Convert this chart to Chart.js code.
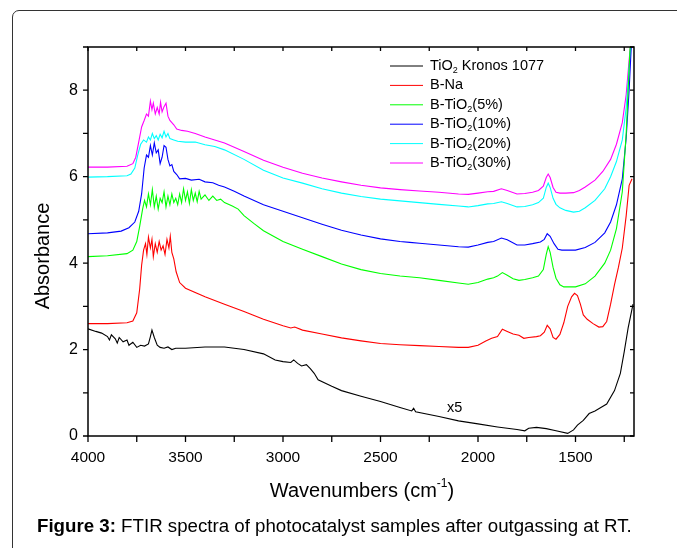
<!DOCTYPE html>
<html lang="en">
<head>
    <meta charset="UTF-8">
    <title>FTIR spectra</title>
    <script src="https://cdn.jsdelivr.net/npm/chart.js"></script>
    <style>
        body {
            margin: 0;
            background: #fff;
            font-family: "Liberation Sans", Arial, sans-serif;
        }
        .frame {
            position: absolute;
            left: 12px;
            top: 10px;
            width: 720px;
            height: 600px;
            border: 1px solid #333;
            border-radius: 7px;
        }
        .chart-box {
            position: absolute;
            left: 0;
            top: 0;
            width: 677px;
            height: 548px;
        }
        .caption {
            position: absolute;
            left: 37px;
            top: 515px;
            font-size: 18.7px;
            color: #000;
            white-space: nowrap;
        }
    </style>
</head>
<body>
    <div class="frame"></div>
    <div class="chart-box"><canvas id="ftirChart"></canvas></div>
    <div class="caption"><b>Figure 3:</b> FTIR spectra of photocatalyst samples after outgassing at RT.</div>

    <script>
        // Spektren (Wellenzahl / Absorbanz)
        const wnBlack = [4000, 3960, 3930, 3900, 3890, 3880, 3860, 3850, 3840, 3820, 3800, 3790, 3770, 3750, 3730, 3710, 3690, 3680, 3672, 3660, 3645, 3630, 3610, 3590, 3570, 3550, 3500, 3400, 3300, 3200, 3100, 3040, 3000, 2960, 2945, 2925, 2905, 2880, 2860, 2840, 2820, 2750, 2700, 2600, 2500, 2400, 2340, 2330, 2320, 2200, 2100, 2000, 1900, 1800, 1760, 1740, 1700, 1650, 1600, 1540, 1510, 1490, 1460, 1430, 1400, 1370, 1340, 1300, 1270, 1250, 1230, 1205];
        const absBlack = [2.48, 2.42, 2.38, 2.30, 2.22, 2.34, 2.25, 2.15, 2.28, 2.18, 2.22, 2.10, 2.17, 2.05, 2.10, 2.08, 2.13, 2.30, 2.45, 2.28, 2.10, 2.05, 2.03, 2.06, 2.00, 2.03, 2.03, 2.06, 2.06, 2.00, 1.90, 1.76, 1.72, 1.70, 1.76, 1.68, 1.62, 1.65, 1.56, 1.45, 1.30, 1.15, 1.05, 0.92, 0.80, 0.66, 0.58, 0.64, 0.56, 0.45, 0.35, 0.28, 0.21, 0.15, 0.12, 0.18, 0.20, 0.17, 0.12, 0.06, 0.14, 0.25, 0.36, 0.52, 0.58, 0.66, 0.74, 1.05, 1.45, 1.95, 2.50, 3.05];

        const wnRed = [4000, 3900, 3800, 3770, 3750, 3735, 3725, 3715, 3705, 3698, 3690, 3680, 3672, 3665, 3655, 3645, 3635, 3625, 3615, 3605, 3595, 3585, 3578, 3570, 3560, 3548, 3530, 3500, 3400, 3300, 3200, 3100, 3000, 2960, 2940, 2900, 2800, 2700, 2600, 2500, 2400, 2300, 2200, 2100, 2050, 2000, 1960, 1930, 1900, 1875, 1850, 1820, 1790, 1765, 1740, 1700, 1680, 1660, 1645, 1630, 1615, 1600, 1580, 1560, 1540, 1520, 1505, 1490, 1475, 1460, 1440, 1410, 1380, 1360, 1340, 1320, 1300, 1280, 1260, 1240, 1225, 1210];
        const absRed = [2.60, 2.60, 2.62, 2.66, 2.85, 3.40, 3.95, 4.30, 4.45, 4.20, 4.60, 4.35, 4.55, 4.15, 4.45, 4.25, 4.50, 4.30, 4.40, 4.20, 4.55, 4.35, 4.62, 4.25, 4.10, 3.80, 3.55, 3.42, 3.22, 3.05, 2.88, 2.70, 2.55, 2.50, 2.52, 2.45, 2.36, 2.27, 2.20, 2.14, 2.11, 2.09, 2.07, 2.05, 2.05, 2.10, 2.20, 2.26, 2.30, 2.47, 2.42, 2.36, 2.33, 2.26, 2.28, 2.30, 2.32, 2.40, 2.56, 2.48, 2.28, 2.24, 2.35, 2.62, 3.00, 3.22, 3.30, 3.25, 3.05, 2.80, 2.70, 2.60, 2.52, 2.53, 2.65, 3.05, 3.50, 3.90, 4.35, 5.10, 5.80, 5.95];

        const wnGreen = [4000, 3900, 3800, 3770, 3750, 3735, 3720, 3710, 3700, 3690, 3680, 3670, 3660, 3650, 3640, 3630, 3620, 3610, 3600, 3590, 3580, 3570, 3560, 3550, 3540, 3530, 3520, 3510, 3500, 3490, 3480, 3470, 3460, 3450, 3440, 3430, 3420, 3400, 3380, 3360, 3340, 3320, 3300, 3260, 3230, 3200, 3150, 3100, 3000, 2900, 2800, 2700, 2600, 2500, 2400, 2300, 2200, 2100, 2050, 2000, 1950, 1920, 1900, 1875, 1850, 1820, 1790, 1760, 1720, 1690, 1665, 1650, 1640, 1630, 1615, 1600, 1580, 1560, 1500, 1450, 1400, 1350, 1320, 1290, 1260, 1240, 1225, 1215, 1205];
        const absGreen = [4.15, 4.17, 4.22, 4.30, 4.50, 4.85, 5.25, 5.45, 5.30, 5.60, 5.35, 5.70, 5.30, 5.55, 5.25, 5.50, 5.40, 5.65, 5.30, 5.55, 5.35, 5.60, 5.40, 5.50, 5.35, 5.60, 5.40, 5.72, 5.45, 5.65, 5.38, 5.70, 5.45, 5.62, 5.42, 5.66, 5.48, 5.58, 5.45, 5.55, 5.45, 5.48, 5.40, 5.32, 5.25, 5.10, 4.92, 4.75, 4.50, 4.32, 4.15, 3.98, 3.85, 3.76, 3.70, 3.66, 3.60, 3.54, 3.51, 3.55, 3.63, 3.66, 3.70, 3.78, 3.72, 3.64, 3.60, 3.62, 3.66, 3.70, 3.85, 4.20, 4.38, 4.25, 3.90, 3.65, 3.50, 3.45, 3.45, 3.52, 3.70, 4.00, 4.30, 4.80, 5.65, 7.00, 8.50, 9.50, 10.0];

        const wnBlue = [4000, 3900, 3830, 3790, 3760, 3740, 3725, 3712, 3700, 3690, 3680, 3670, 3660, 3650, 3640, 3630, 3620, 3610, 3600, 3590, 3580, 3570, 3560, 3545, 3530, 3500, 3470, 3430, 3400, 3360, 3330, 3300, 3250, 3200, 3100, 3000, 2900, 2800, 2700, 2600, 2500, 2400, 2350, 2300, 2200, 2100, 2050, 2000, 1950, 1920, 1880, 1850, 1800, 1760, 1720, 1680, 1660, 1645, 1630, 1610, 1590, 1570, 1500, 1450, 1400, 1350, 1320, 1290, 1260, 1240, 1225, 1212, 1205];
        const absBlue = [4.68, 4.70, 4.74, 4.82, 4.95, 5.20, 5.60, 6.20, 6.50, 6.45, 6.72, 6.50, 6.78, 6.55, 6.62, 6.30, 6.45, 6.72, 6.68, 6.40, 6.25, 6.28, 6.12, 6.05, 5.95, 5.96, 5.92, 5.94, 5.88, 5.86, 5.80, 5.76, 5.66, 5.55, 5.35, 5.20, 5.05, 4.90, 4.76, 4.65, 4.56, 4.50, 4.48, 4.46, 4.42, 4.38, 4.37, 4.42, 4.48, 4.50, 4.58, 4.54, 4.42, 4.42, 4.45, 4.49, 4.55, 4.68, 4.62, 4.45, 4.32, 4.30, 4.30, 4.36, 4.48, 4.70, 4.95, 5.35, 5.95, 6.90, 8.00, 9.20, 9.60];

        const wnCyan = [4000, 3900, 3800, 3780, 3760, 3745, 3730, 3715, 3700, 3690, 3680, 3670, 3660, 3650, 3640, 3630, 3620, 3610, 3600, 3590, 3580, 3560, 3540, 3500, 3450, 3400, 3350, 3300, 3200, 3100, 3000, 2900, 2800, 2700, 2600, 2500, 2400, 2300, 2200, 2100, 2050, 2000, 1950, 1920, 1880, 1850, 1800, 1760, 1720, 1690, 1665, 1650, 1640, 1630, 1615, 1600, 1580, 1550, 1510, 1480, 1450, 1400, 1350, 1320, 1290, 1260, 1240, 1225, 1212];
        const absCyan = [5.99, 6.00, 6.02, 6.06, 6.20, 6.50, 6.75, 6.85, 6.80, 6.92, 6.85, 7.00, 6.88, 6.95, 6.85, 6.98, 6.90, 7.05, 6.92, 7.00, 6.88, 6.85, 6.82, 6.80, 6.80, 6.74, 6.70, 6.62, 6.40, 6.15, 5.97, 5.85, 5.72, 5.62, 5.54, 5.48, 5.44, 5.40, 5.36, 5.32, 5.30, 5.33, 5.37, 5.38, 5.42, 5.38, 5.30, 5.31, 5.35, 5.40, 5.50, 5.75, 5.85, 5.75, 5.50, 5.36, 5.28, 5.22, 5.18, 5.20, 5.28, 5.45, 5.72, 6.00, 6.35, 6.85, 7.60, 8.50, 9.30];

        const wnMagenta = [4000, 3900, 3800, 3770, 3755, 3740, 3725, 3712, 3700, 3690, 3680, 3672, 3665, 3655, 3645, 3635, 3628, 3620, 3610, 3600, 3590, 3580, 3560, 3545, 3520, 3490, 3450, 3400, 3350, 3300, 3200, 3100, 3000, 2900, 2800, 2700, 2600, 2500, 2400, 2300, 2200, 2100, 2050, 2000, 1950, 1920, 1880, 1850, 1800, 1760, 1720, 1690, 1665, 1650, 1640, 1630, 1615, 1600, 1580, 1550, 1510, 1480, 1450, 1400, 1360, 1320, 1290, 1260, 1240, 1225, 1212];
        const absMagenta = [6.22, 6.22, 6.24, 6.30, 6.45, 6.80, 7.15, 7.30, 7.45, 7.40, 7.75, 7.55, 7.70, 7.45, 7.60, 7.45, 7.72, 7.50, 7.62, 7.70, 7.40, 7.30, 7.20, 7.10, 7.07, 7.05, 7.00, 6.92, 6.85, 6.78, 6.58, 6.38, 6.22, 6.08, 5.97, 5.88, 5.80, 5.74, 5.70, 5.67, 5.64, 5.60, 5.59, 5.62, 5.65, 5.66, 5.72, 5.68, 5.60, 5.61, 5.64, 5.68, 5.78, 5.98, 6.06, 5.98, 5.75, 5.64, 5.62, 5.62, 5.63, 5.68, 5.76, 5.92, 6.12, 6.40, 6.75, 7.25, 7.90, 8.70, 9.30];

        const seriesNames = ['TiO2 Kronos 1077', 'B-Na', 'B-TiO2(5%)', 'B-TiO2(10%)', 'B-TiO2(20%)', 'B-TiO2(30%)'];
        const seriesColors = ['#000000', '#ff0000', '#00ff00', '#0000ff', '#00ffff', '#ff00ff'];
        const xLabelValues = [4000, 3500, 3000, 2500, 2000, 1500];
        const yLabelValues = [0, 2, 4, 6, 8];

        const seriesWn = [wnBlack, wnRed, wnGreen, wnBlue, wnCyan, wnMagenta];
        const seriesAbs = [absBlack, absRed, absGreen, absBlue, absCyan, absMagenta];

        const FONT = '"Liberation Sans", Arial, sans-serif';

        // Text mit tiefgestellter "2" nach "TiO"
        function drawChem(ctx, text, x, y, size) {
            const parts = text.split('TiO2');
            let cx = x;
            ctx.font = size + 'px ' + FONT;
            parts.forEach((p, i) => {
                if (i > 0) {
                    ctx.font = size + 'px ' + FONT;
                    ctx.fillText('TiO', cx, y);
                    cx += ctx.measureText('TiO').width;
                    ctx.font = Math.round(size * 0.65) + 'px ' + FONT;
                    ctx.fillText('2', cx, y + size * 0.3);
                    cx += ctx.measureText('2').width;
                    ctx.font = size + 'px ' + FONT;
                }
                ctx.fillText(p, cx, y);
                cx += ctx.measureText(p).width;
            });
        }

        const decorPlugin = {
            id: 'decor',
            afterDraw(chart) {
                const ctx = chart.ctx;
                const a = chart.chartArea;
                const xs = chart.scales.x;
                const ys = chart.scales.y;
                ctx.save();
                ctx.strokeStyle = '#000';
                ctx.lineWidth = 1.5;
                ctx.strokeRect(a.left, a.top, a.right - a.left, a.bottom - a.top);

                // Striche: unten/links nach aussen, oben/rechts nach innen
                ctx.lineWidth = 1.3;
                ctx.beginPath();
                for (let v = 1250; v <= 4000; v += 250) {
                    const px = xs.getPixelForValue(v);
                    ctx.moveTo(px, a.bottom); ctx.lineTo(px, a.bottom + 6);
                    ctx.moveTo(px, a.top); ctx.lineTo(px, a.top + 4);
                }
                for (let v = 0; v <= 9; v++) {
                    const py = ys.getPixelForValue(v);
                    ctx.moveTo(a.left - 5, py); ctx.lineTo(a.left, py);
                    ctx.moveTo(a.right - 4, py); ctx.lineTo(a.right, py);
                }
                ctx.stroke();

                // Legende
                ctx.fillStyle = '#000';
                ctx.textBaseline = 'middle';
                ctx.textAlign = 'left';
                seriesNames.forEach((name, i) => {
                    const ly = 66 + i * 19.4;
                    ctx.strokeStyle = seriesColors[i];
                    ctx.lineWidth = 1;
                    ctx.beginPath();
                    ctx.moveTo(390, ly); ctx.lineTo(423, ly);
                    ctx.stroke();
                    drawChem(ctx, name, 430, ly, 14.5);
                });

                ctx.font = '14.5px ' + FONT;
                ctx.fillText('x5', 447, 408);

                // Achsentitel
                ctx.font = '20px ' + FONT;
                ctx.textAlign = 'center';
                ctx.save();
                ctx.translate(43, 256);
                ctx.rotate(-Math.PI / 2);
                ctx.fillText('Absorbance', 0, 0);
                ctx.restore();

                ctx.textAlign = 'left';
                const t1 = 'Wavenumbers (cm';
                const w1 = ctx.measureText(t1).width;
                ctx.font = '12px ' + FONT;
                const w2 = ctx.measureText('-1').width;
                ctx.font = '20px ' + FONT;
                const w3 = ctx.measureText(')').width;
                let tx = 362 - (w1 + w2 + w3) / 2;
                ctx.fillText(t1, tx, 491);
                tx += w1;
                ctx.font = '12px ' + FONT;
                ctx.fillText('-1', tx, 484);
                tx += w2;
                ctx.font = '20px ' + FONT;
                ctx.fillText(')', tx, 491);
                ctx.restore();
            }
        };

        const ctx = document.getElementById('ftirChart').getContext('2d');
        const ftirChart = new Chart(ctx, {
            type: 'line',
            data: {
                datasets: seriesNames.map((name, i) => ({
                    label: name,
                    data: seriesWn[i].map((w, j) => ({ x: w, y: seriesAbs[i][j] })),
                    borderColor: seriesColors[i],
                    borderWidth: 1.1,
                    pointRadius: 0,
                    tension: 0,
                    fill: false
                }))
            },
            options: {
                responsive: true,
                maintainAspectRatio: false,
                animation: false,
                layout: {
                    padding: { left: 0, top: 47, right: 43, bottom: 0 }
                },
                plugins: {
                    legend: { display: false },
                    tooltip: { enabled: false }
                },
                scales: {
                    x: {
                        type: 'linear',
                        reverse: true,
                        min: 1200,
                        max: 4000,
                        afterFit: s => { s.height = 112; },
                        afterBuildTicks: s => { s.ticks = xLabelValues.map(v => ({ value: v })); },
                        grid: { display: false, drawTicks: false },
                        border: { display: false },
                        ticks: {
                            autoSkip: false,
                            maxRotation: 0,
                            padding: 12,
                            color: '#000',
                            font: { size: 15.5, family: FONT },
                            callback: v => String(v)
                        }
                    },
                    y: {
                        min: 0,
                        max: 9,
                        afterFit: s => { s.width = 88; },
                        afterBuildTicks: s => { s.ticks = yLabelValues.map(v => ({ value: v })); },
                        grid: { display: false, drawTicks: false },
                        border: { display: false },
                        ticks: {
                            autoSkip: false,
                            padding: 10,
                            color: '#000',
                            font: { size: 16, family: FONT },
                            callback: v => String(v)
                        }
                    }
                }
            },
            plugins: [decorPlugin]
        });
    </script>
</body>
</html>
